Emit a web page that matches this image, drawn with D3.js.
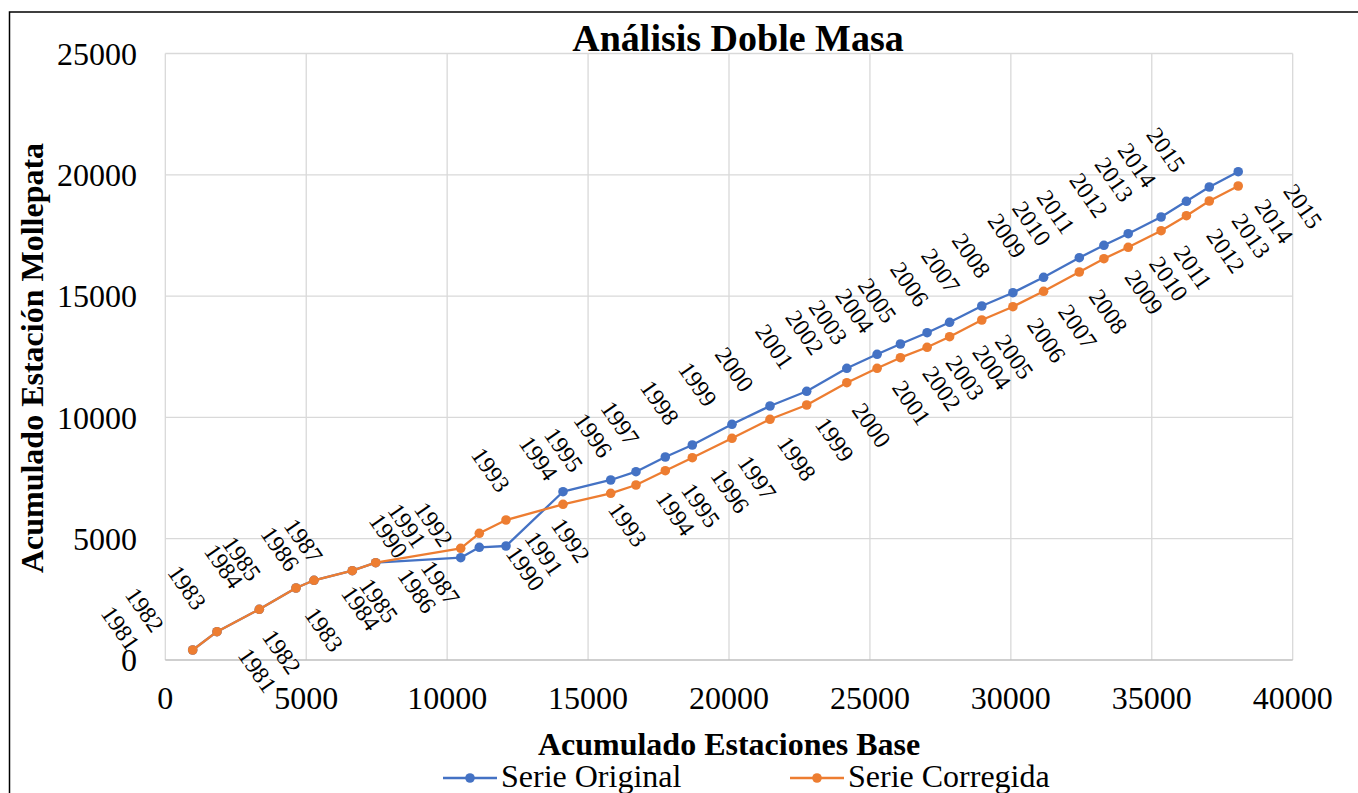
<!DOCTYPE html>
<meta charset="utf-8">
<style>
body {
  margin: 0;
  background: #fff;
}

.grid line {
  stroke: #d9d9d9;
  stroke-width: 1.3px;
}

.serie {
  fill: none;
  stroke-width: 2.3px;
  stroke-linejoin: round;
}
</style>
<svg width="1358" height="793"></svg>
<script src="https://cdn.jsdelivr.net/npm/d3@7/dist/d3.min.js"></script>
<script>

// years with data (1988 and 1989 are missing in the series)
var years = [1981, 1982, 1983, 1984, 1985, 1986, 1987,
  1990, 1991, 1992, 1993, 1994, 1995, 1996, 1997, 1998, 1999, 2000,
  2001, 2002, 2003, 2004, 2005, 2006, 2007, 2008, 2009, 2010,
  2011, 2012, 2013, 2014, 2015];

// accumulated base stations (x)
var acumBase = [972, 1834, 3335, 4637, 5276, 6635, 7465,
  10481, 11141, 12088, 14111, 15803, 16700, 17740, 18698, 20106, 21455, 22757,
  24180, 25255, 26082, 27029, 27827, 28969, 30073, 31162, 32429, 33302,
  34164, 35331, 36229, 37041, 38067];

// accumulated Mollepata station, original series
var serieOriginal = [412, 1167, 2090, 2968, 3285, 3681, 4011,
  4217, 4645, 4699, 6937, 7420, 7762, 8368, 8862, 9716, 10470, 11076,
  12024, 12601, 13026, 13491, 13920, 14592, 15140, 15775, 16583, 17094,
  17572, 18261, 18908, 19497, 20128];

// corrected series
var serieCorregida = [412, 1167, 2090, 2968, 3285, 3681, 4011,
  4604, 5223, 5771, 6418, 6871, 7214, 7803, 8339, 9138, 9922, 10511,
  11430, 12024, 12461, 12890, 13327, 14015, 14563, 15198, 15993, 16542,
  17012, 17696, 18314, 18920, 19538];

var xTicks = [0, 5000, 10000, 15000, 20000, 25000, 30000, 35000, 40000];
var yTicks = [0, 5000, 10000, 15000, 20000, 25000];

var seriesNames = ["Serie Original", "Serie Corregida"];
var seriesColors = ["#4472C4", "#ED7D31"];

var FONT = "'Liberation Serif', 'Times New Roman', serif";

var svg = d3.select("svg");

// every text gets the serif font inline
function txt(sel, size, bold) {
  return sel.style("font-family", FONT)
      .style("font-size", size + "px")
      .style("font-weight", bold ? "bold" : "normal")
      .attr("fill", "#000");
}

// chart border (right and bottom edges fall outside the picture)
svg.append("rect")
    .attr("x", 9.5)
    .attr("y", 12)
    .attr("width", 1500)
    .attr("height", 1000)
    .attr("fill", "none")
    .attr("stroke", "#000")
    .attr("stroke-width", 1.5);

var x = d3.scaleLinear().domain([0, 40000]).range([165.3, 1292.7]);
var y = d3.scaleLinear().domain([0, 25000]).range([660, 53.5]);

var grid = svg.append("g").attr("class", "grid");

grid.selectAll(".vline")
    .data(xTicks)
  .enter().append("line")
    .attr("class", "vline")
    .attr("x1", function(d) { return x(d); })
    .attr("x2", function(d) { return x(d); })
    .attr("y1", y(0))
    .attr("y2", y(25000));

grid.selectAll(".hline")
    .data(yTicks)
  .enter().append("line")
    .attr("class", "hline")
    .attr("x1", x(0))
    .attr("x2", x(40000))
    .attr("y1", function(d) { return y(d); })
    .attr("y2", function(d) { return y(d); })
    .style("stroke", function(d) { return d === 0 ? "#bfbfbf" : null; });

// tick labels
svg.append("g")
  .selectAll("text")
    .data(yTicks)
  .enter().append("text")
    .call(txt, 32)
    .attr("x", 137)
    .attr("y", function(d) { return y(d); })
    .attr("dy", "0.35em")
    .attr("text-anchor", "end")
    .text(function(d) { return d; });

svg.append("g")
  .selectAll("text")
    .data(xTicks)
  .enter().append("text")
    .call(txt, 32)
    .attr("x", function(d) { return x(d); })
    .attr("y", 698)
    .attr("dy", "0.35em")
    .attr("text-anchor", "middle")
    .text(function(d) { return d; });

// titles
svg.append("text")
    .call(txt, 38, true)
    .attr("x", 738)
    .attr("y", 51)
    .attr("text-anchor", "middle")
    .text("Análisis Doble Masa");

svg.append("text")
    .call(txt, 32, true)
    .attr("x", 729)
    .attr("y", 755)
    .attr("text-anchor", "middle")
    .text("Acumulado Estaciones Base");

svg.append("text")
    .call(txt, 32, true)
    .attr("transform", "translate(43,358) rotate(-90)")
    .attr("text-anchor", "middle")
    .text("Acumulado Estación Mollepata");

// series
var series = [serieOriginal, serieCorregida].map(function(vals, k) {
  return {
    name: seriesNames[k],
    color: seriesColors[k],
    points: years.map(function(yr, i) {
      return { year: yr, x: acumBase[i], y: vals[i] };
    })
  };
});

var line = d3.line()
    .x(function(d) { return x(d.x); })
    .y(function(d) { return y(d.y); });

series.forEach(function(s) {
  var g = svg.append("g");
  g.append("path")
      .attr("class", "serie")
      .attr("stroke", s.color)
      .attr("d", line(s.points));
  g.selectAll("circle")
      .data(s.points)
    .enter().append("circle")
      .attr("cx", function(d) { return x(d.x); })
      .attr("cy", function(d) { return y(d.y); })
      .attr("r", 4.8)
      .attr("fill", s.color);
});

// year labels: original to the upper left, corrected to the lower right
var labelOffset = [[-72, -22], [65, 20]];

series.forEach(function(s, k) {
  svg.append("g")
    .selectAll("text")
      .data(s.points)
    .enter().append("text")
      .call(txt, 24)
      .attr("text-anchor", "middle")
      .attr("dy", "0.35em")
      .attr("transform", function(d) {
        var px = x(d.x) + labelOffset[k][0],
            py = y(d.y) + labelOffset[k][1];
        return "translate(" + px + "," + py + ") rotate(55)";
      })
      .text(function(d) { return d.year; });
});

// legend
var legendPos = [443, 790];
var legend = svg.append("g");

seriesNames.forEach(function(name, k) {
  var lx = legendPos[k];
  legend.append("line")
      .attr("x1", lx)
      .attr("x2", lx + 54)
      .attr("y1", 778)
      .attr("y2", 778)
      .attr("stroke", seriesColors[k])
      .attr("stroke-width", 2.3);
  legend.append("circle")
      .attr("cx", lx + 27)
      .attr("cy", 778)
      .attr("r", 4.8)
      .attr("fill", seriesColors[k]);
  legend.append("text")
      .call(txt, 32)
      .attr("x", lx + 58)
      .attr("y", 787)
      .text(name);
});

</script>
